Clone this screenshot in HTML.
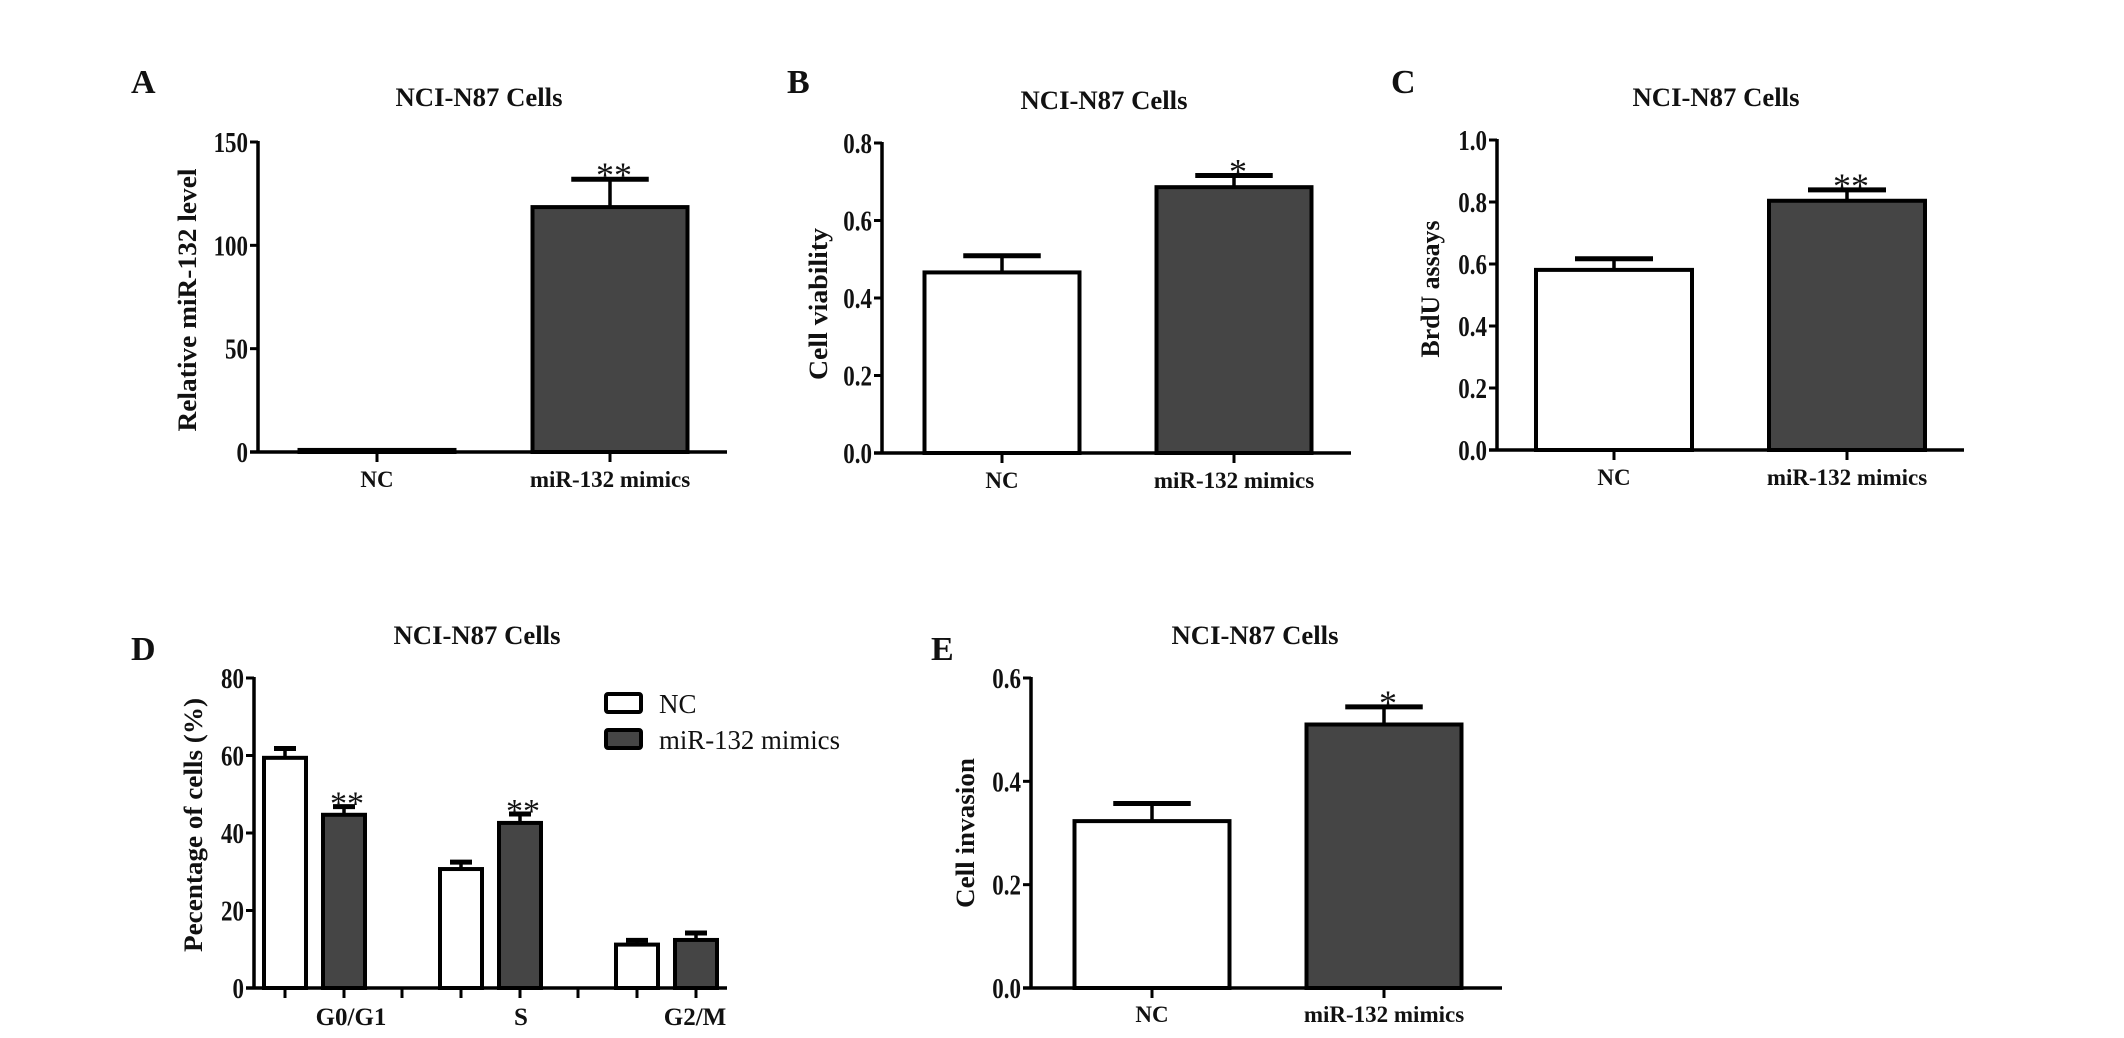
<!DOCTYPE html>
<html><head><meta charset="utf-8"><style>
html,body{margin:0;padding:0;background:#fff;}
svg{display:block;}
text{font-family:"Liberation Serif",serif;fill:#111;}
</style></head><body>
<svg id="fig" width="2124" height="1038" viewBox="0 0 2124 1038" xmlns="http://www.w3.org/2000/svg"></svg>
<script>
// ---- data ----
const categoriesAB = ["NC", "miR-132 mimics"];
const valuesA = [1, 118.5];
const errorsA = [0.5, 132];
const valuesB = [0.466, 0.686];
const errorsB = [0.509, 0.716];
const valuesC = [0.581, 0.804];
const errorsC = [0.617, 0.839];
const valuesE = [0.323, 0.510];
const errorsE = [0.357, 0.544];
const starsAB = ["", "**"];
const starsSingle = ["", "*"];
const ticksA = [0, 50, 100, 150];
const ticksB = ["0.0", "0.2", "0.4", "0.6", "0.8"];
const ticksC = ["0.0", "0.2", "0.4", "0.6", "0.8", "1.0"];
const ticksE = ["0.0", "0.2", "0.4", "0.6"];
const phasesD = ["G0/G1", "S", "G2/M"];
const ncD = [59.4, 30.7, 11.2];
const ncErrD = [61.8, 32.5, 12.3];
const mimD = [44.7, 42.6, 12.4];
const mimErrD = [46.8, 44.9, 14.2];
const mimStarsD = ["**", "**", ""];
const ticksD = [0, 20, 40, 60, 80];
const legendD = ["NC", "miR-132 mimics"];

const NS = "http://www.w3.org/2000/svg";
const svg = document.getElementById("fig");
function mk(tag, attrs, parent) {
  const e = document.createElementNS(NS, tag);
  for (const k in attrs) e.setAttribute(k, attrs[k]);
  (parent || svg).appendChild(e);
  return e;
}
function txt(s, x, y, size, weight, anchor, parent, extra) {
  const t = mk("text", Object.assign({x: x, y: y, "font-size": size, "font-weight": weight, "text-anchor": anchor}, extra || {}), parent);
  t.textContent = s;
  return t;
}
const DARK = "#454545";

function panel(p) {
  const g = mk("g", {});
  
  
  const yMax = p.yMax;
  const yS = v => p.baseY - (v / yMax) * (p.baseY - p.topY);
  const L = txt(p.letter, p.lx, p.ly, 34, "bold", "start", g);
  
  
  const T = txt("NCI-N87 Cells", p.tx, p.ty, 26, "bold", "middle", g, {textLength: 167, lengthAdjust: "spacingAndGlyphs"});
  
  
  const Y = txt(p.ylabel, 0, 0, 26, "bold", "middle", g, {transform: "translate(" + p.ylx + "," + p.lyc + ") rotate(-90)", textLength: p.ylLen, lengthAdjust: "spacingAndGlyphs"});
  
  
  const ya = mk("line", {x1: p.axisX, y1: p.topY - 1, x2: p.axisX, y2: p.baseY, stroke: "#000", "stroke-width": 3.5}, g);
  
  
  p.ticks.forEach(t => {
    const y = yS(parseFloat(t));
    const tl = mk("line", {x1: p.axisX - 8, y1: y, x2: p.axisX, y2: y, stroke: "#000", "stroke-width": 3}, g);
    
    
    const lab = txt(String(t), 0, 0, 28, "bold", "end", g, {transform: "translate(" + (p.axisX - 10) + "," + (y + 10) + ") scale(0.82,1)"});
    
    
  });
  const xa = mk("line", {x1: p.axisX - 8, y1: p.baseY, x2: p.xEnd, y2: p.baseY, stroke: "#000", "stroke-width": 3.5}, g);
  
  
  return {g: g, yS: yS};
}

function bar(g, x0, x1, y, base, fill) {
  return mk("rect", {x: x0, y: y, width: x1 - x0, height: Math.max(base - y, 0.5), fill: fill, stroke: "#000", "stroke-width": 4}, g);
}
function errbar(g, cx, yTop, yErr, capW) {
  const l = mk("line", {x1: cx, y1: yTop, x2: cx, y2: yErr, stroke: "#000", "stroke-width": 3.5}, g);
  
  
  const c = mk("line", {x1: cx - capW / 2, y1: yErr, x2: cx + capW / 2, y2: yErr, stroke: "#000", "stroke-width": 5}, g);
  
  
}
function star(g, s, cx, yErr, size) {
  if (!s) return;
  const t = txt(s, cx, yErr + 8, size, "normal", "middle", g);
  
  
}

function twoBar(p, vals, errs, stars) {
  const o = panel(p);
  const g = o.g, yS = o.yS;
  const barW = p.barW;
  categoriesAB.forEach((c, i) => {
    const cx = p.ticksX0 + i * p.dx;
    const top = yS(vals[i]);
    errbar(g, cx, top, yS(errs[i]), barW * 0.5);
    const r = bar(g, cx - barW / 2, cx + barW / 2, top, p.baseY, i === 0 ? "#fff" : DARK);
    
    
    const tk = mk("line", {x1: cx, y1: p.baseY, x2: cx, y2: p.baseY + 10, stroke: "#000", "stroke-width": 3}, g);
    
    
    const lab = txt(c, cx, p.xlY, 23, "bold", "middle", g);
    
    
    star(g, stars[i], cx + 4, yS(errs[i]), 36);
  });
}

twoBar({letter: "A", lx: 131, ly: 93, tx: 479, ty: 106, ylabel: "Relative miR-132 level", ylx: 196, lyc: 300, ylLen: 263,
  axisX: 258, baseY: 452, topY: 142, yMax: 150, xEnd: 727, ticks: ticksA, ticksX0: 377, dx: 233, barW: 155, xlY: 487}, valuesA, errorsA, starsAB);
twoBar({letter: "B", lx: 787, ly: 93, tx: 1104, ty: 109, ylabel: "Cell viability", ylx: 827, lyc: 304, ylLen: 152,
  axisX: 882, baseY: 453, topY: 143, yMax: 0.8, xEnd: 1351, ticks: ticksB, ticksX0: 1002, dx: 232, barW: 155, xlY: 488}, valuesB, errorsB, starsSingle);
twoBar({letter: "C", lx: 1391, ly: 93, tx: 1716, ty: 106, ylabel: "BrdU assays", ylx: 1439, lyc: 289, ylLen: 137,
  axisX: 1497, baseY: 450, topY: 140, yMax: 1.0, xEnd: 1964, ticks: ticksC, ticksX0: 1614, dx: 233, barW: 156, xlY: 485}, valuesC, errorsC, starsAB);
twoBar({letter: "E", lx: 931, ly: 660, tx: 1255, ty: 644, ylabel: "Cell invasion", ylx: 974, lyc: 833, ylLen: 150,
  axisX: 1031, baseY: 988, topY: 678, yMax: 0.6, xEnd: 1502, ticks: ticksE, ticksX0: 1152, dx: 232, barW: 155, xlY: 1022}, valuesE, errorsE, starsSingle);

// Panel D grouped
(function () {
  const p = {letter: "D", lx: 131, ly: 660, tx: 477, ty: 644, ylabel: "Pecentage of cells (%)", ylx: 202, lyc: 825, ylLen: 254,
    axisX: 254, baseY: 988, topY: 678, yMax: 80, xEnd: 727, ticks: ticksD};
  const o = panel(p);
  const g = o.g, yS = o.yS;
  const groupW = 176, first = 285, bw = 42;
  const labelOff = [66, 60, 58];
  phasesD.forEach((ph, i) => {
    const c0 = first + i * groupW;
    const c1 = c0 + 59;
    errbar(g, c0, yS(ncD[i]), yS(ncErrD[i]), 22);
    const r0 = bar(g, c0 - bw / 2, c0 + bw / 2, yS(ncD[i]), p.baseY, "#fff");
    
    
    errbar(g, c1, yS(mimD[i]), yS(mimErrD[i]), 22);
    const r1 = bar(g, c1 - bw / 2, c1 + bw / 2, yS(mimD[i]), p.baseY, DARK);
    
    
    star(g, mimStarsD[i], c1 + 3, yS(mimErrD[i]), 34);
    [c0, c1, c1 + 58].forEach(cx => {
      if (cx > p.xEnd) return;
      const tk = mk("line", {x1: cx, y1: p.baseY, x2: cx, y2: p.baseY + 10, stroke: "#000", "stroke-width": 3}, g);
      
      
    });
    const lab = txt(ph, c0 + labelOff[i], 1025, 25, "bold", "middle", g);
    
    
  });
  legendD.forEach((s, i) => {
    const y = 694 + i * 36;
    const b = mk("rect", {x: 606, y: y, width: 35, height: 18, rx: 2, fill: i === 0 ? "#fff" : DARK, stroke: "#000", "stroke-width": 4}, g);
    
    
    const t = txt(s, 659, y + 19, 27, "normal", "start", g, i === 1 ? {textLength: 181, lengthAdjust: "spacingAndGlyphs"} : {});
    
    
  });
})();
</script>
</body></html>
